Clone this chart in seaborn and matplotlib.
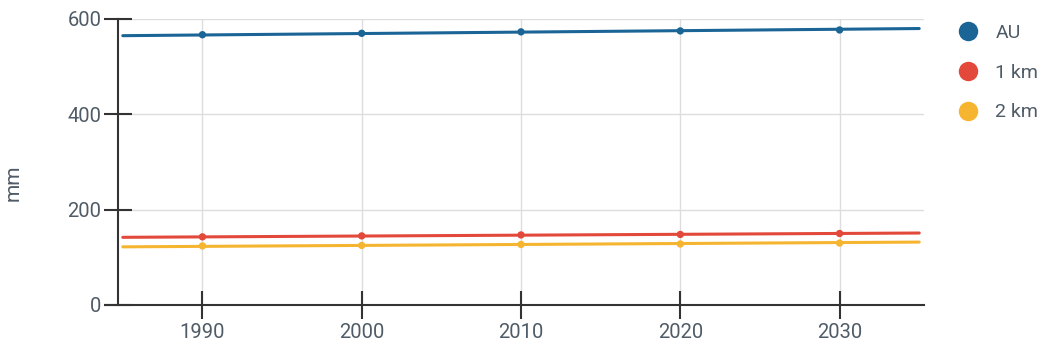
import matplotlib
matplotlib.use("Agg")
import matplotlib.pyplot as plt
from matplotlib.lines import Line2D
import seaborn as sns
import pandas as pd

# Decadal values (mm)
years = [1990, 2000, 2010, 2020, 2030]
au = [567, 570, 573, 575, 577]
km1 = [143, 145, 147, 148, 150]
km2 = [124, 125, 127, 128, 130]

# Linear trend spanning the full period
trend_years = [1985, 2035]
au_trend = [565, 580]
km1_trend = [142, 151]
km2_trend = [122, 132]

series = ["AU", "1 km", "2 km"]
colors = {"AU": "#1a6496", "1 km": "#e2493a", "2 km": "#f6b530"}

points = pd.DataFrame({
    "year": years * 3,
    "value": au + km1 + km2,
    "series": [s for s in series for _ in years],
})
trends = pd.DataFrame({
    "year": trend_years * 3,
    "value": au_trend + km1_trend + km2_trend,
    "series": [s for s in series for _ in trend_years],
})

sns.set_theme(style="white")
plt.rcParams["font.family"] = ["Roboto", "DejaVu Sans"]

text_color = "#4f5b66"
axis_color = "#333333"

fig = plt.figure(figsize=(10.44, 3.52), dpi=100)
ax = fig.add_axes([118 / 1044, 47 / 352, 806 / 1044, 286 / 352])

sns.lineplot(data=trends, x="year", y="value", hue="series", palette=colors,
             hue_order=series, linewidth=2.2, legend=False, ax=ax, zorder=3)
sns.scatterplot(data=points, x="year", y="value", hue="series", palette=colors,
                hue_order=series, s=28, edgecolor="none", legend=False, ax=ax,
                zorder=4)

ax.set_xlim(1984.7, 2035.3)
ax.set_ylim(0, 600)
ax.set_xticks(years)
ax.set_yticks([0, 200, 400, 600])
ax.set_xlabel("")
ax.set_ylabel("mm", color=text_color, fontsize=15)
ax.yaxis.set_label_coords(-0.118, 0.427)

ax.grid(True, color="#dddddd", linewidth=1)
ax.set_axisbelow(True)

for side in ("top", "right"):
    ax.spines[side].set_visible(False)
for side in ("left", "bottom"):
    ax.spines[side].set_color(axis_color)
    ax.spines[side].set_linewidth(1.5)
ax.spines["bottom"].set_bounds(1983.9, 2035.3)

ax.tick_params(axis="x", bottom=True, direction="inout", length=20, width=1.5,
               color=axis_color, labelcolor=text_color, labelsize=14.5, pad=3)
ax.tick_params(axis="y", left=True, direction="inout", length=20, width=1.5,
               color=axis_color, labelcolor=text_color, labelsize=14.5, pad=2)

handles = [Line2D([0], [0], marker="o", linestyle="none", markersize=14,
                  markerfacecolor=colors[s], markeredgecolor="none")
           for s in series]
fig.legend(handles, series, loc="upper left", bbox_to_anchor=(948.7 / 1044, 1 - 16 / 352),
           frameon=False, fontsize=14, labelcolor=text_color, labelspacing=1.12,
           handletextpad=0.8, borderaxespad=0, handlelength=1.2)

fig.savefig("out.png", dpi=100)
